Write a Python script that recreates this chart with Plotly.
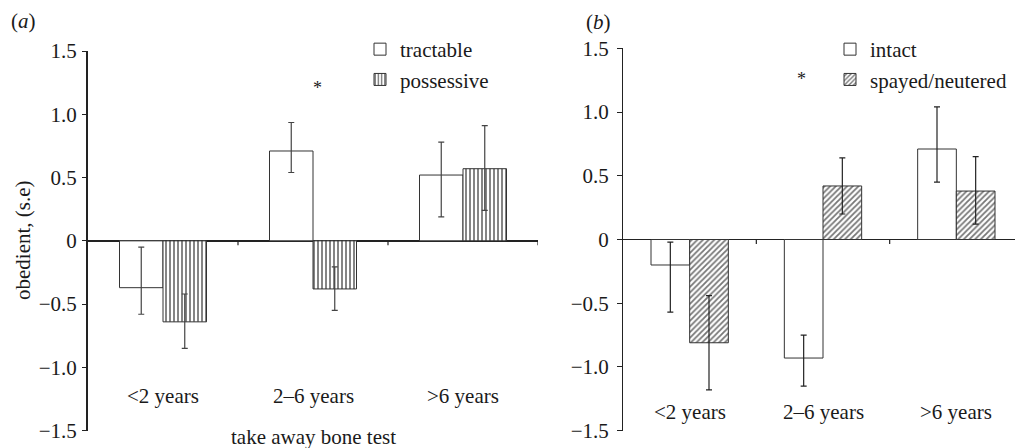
import plotly.graph_objects as go

# The page body has an 8px default margin, so the figure is drawn 8px smaller
# and every reference pixel position is shifted by that offset.
OFF = 8
W, H = 1023 - OFF, 448 - OFF

categories = ["<2 years", "2\u20136 years", ">6 years"]

# panel (a) take away bone test
tractable = [-0.37, 0.71, 0.52]
tractable_hi = [-0.05, 0.935, 0.78]
tractable_lo = [-0.58, 0.54, 0.19]
possessive = [-0.64, -0.38, 0.57]
possessive_hi = [-0.42, -0.205, 0.91]
possessive_lo = [-0.85, -0.55, 0.24]

# panel (b) neuter status
intact = [-0.20, -0.93, 0.71]
intact_hi = [-0.02, -0.75, 1.04]
intact_lo = [-0.57, -1.15, 0.45]
spayed = [-0.81, 0.42, 0.38]
spayed_hi = [-0.44, 0.64, 0.65]
spayed_lo = [-1.18, 0.20, 0.12]

ytick_vals = [1.5, 1.0, 0.5, 0, -0.5, -1.0, -1.5]
ytick_text = ["1.5", "1.0", "0.5", "0", "\u22120.5", "\u22121.0", "\u22121.5"]

FONT = "Liberation Serif"
TXT = "#1a1a1a"
EDGE = "#333333"

xs = list(range(len(categories)))


def errs(v, hi, lo):
    return [h - a for a, h in zip(v, hi)], [a - l for a, l in zip(v, lo)]


def bar(name, vals, hi, lo, xa, ya, legend, pattern=None, errcol="#444"):
    plus, minus = errs(vals, hi, lo)
    marker = dict(color="white", line=dict(color=EDGE, width=1))
    if pattern:
        marker["pattern"] = pattern
    return go.Bar(
        x=xs, y=vals, name=name, xaxis=xa, yaxis=ya, legend=legend,
        marker=marker,
        error_y=dict(type="data", symmetric=False, array=plus, arrayminus=minus,
                     color=errcol, thickness=1.2, width=3),
    )


fig = go.Figure()
fig.add_trace(bar("tractable", tractable, tractable_hi, tractable_lo, "x", "y", "legend"))
fig.add_trace(bar("possessive", possessive, possessive_hi, possessive_lo, "x", "y", "legend",
                  pattern=dict(shape="|", fgcolor="#666", bgcolor="white", size=4, solidity=0.4)))
fig.add_trace(bar("intact", intact, intact_hi, intact_lo, "x2", "y2", "legend2", errcol="#222"))
fig.add_trace(bar("spayed/neutered", spayed, spayed_hi, spayed_lo, "x2", "y2", "legend2",
                  pattern=dict(shape="/", fgcolor="#777", bgcolor="white", size=4, solidity=0.45),
                  errcol="#222"))


def px_x(p):
    return (p - OFF) / W


def px_y(p):
    return 1 - (p - OFF) / H


ya_common = dict(range=[-1.5, 1.5], tickvals=ytick_vals, ticktext=ytick_text,
                 ticks="outside", showgrid=False, zeroline=True, automargin=False,
                 tickfont=dict(family=FONT, size=21, color=TXT),
                 linecolor="#222", zerolinecolor="#222", showline=True, tickcolor="#222")

fig.update_layout(
    template="none",
    width=W, height=H,
    margin=dict(l=0, r=0, t=0, b=0, pad=0, autoexpand=False),
    paper_bgcolor="white", plot_bgcolor="white",
    barmode="group", bargap=0.42, bargroupgap=0,
    font=dict(family=FONT, size=21, color=TXT),
    xaxis=dict(domain=[px_x(88), px_x(538)], range=[-0.5, 2.5], visible=False,
               anchor="y", automargin=False),
    xaxis2=dict(domain=[px_x(623), 1.0], range=[-0.5, 2.5], visible=False,
                anchor="y2", automargin=False),
    yaxis=dict(domain=[px_y(430.7), px_y(51)], anchor="x", linewidth=2, zerolinewidth=2,
               ticklen=4, ticklabelstandoff=1, **ya_common),
    yaxis2=dict(domain=[px_y(430.7), px_y(48.3)], anchor="x2", linewidth=1, zerolinewidth=1,
                ticklen=5, ticklabelstandoff=4, **ya_common),
    legend=dict(x=px_x(360), y=px_y(29), xanchor="left", yanchor="top",
                bgcolor="rgba(0,0,0,0)", font=dict(family=FONT, size=21, color=TXT),
                traceorder="normal", borderwidth=0),
    legend2=dict(x=px_x(830), y=px_y(29), xanchor="left", yanchor="top",
                 bgcolor="rgba(0,0,0,0)", font=dict(family=FONT, size=21, color=TXT),
                 traceorder="normal", borderwidth=0),
    showlegend=True,
)

shapes = []
annotations = []
for xr, yr, lab_y, ends in (("x", "y", -1.228, True), ("x2", "y2", -1.355, False)):
    n = len(categories)
    bounds = [i + 0.5 for i in range(n - 1)] + ([n - 0.5] if ends else [])
    for b in bounds:
        shapes.append(dict(type="line", xref=xr, yref=yr, x0=b, x1=b, y0=0, y1=-0.035,
                           line=dict(color="#222", width=1.2)))
    for i, c in enumerate(categories):
        annotations.append(dict(x=i, y=lab_y, xref=xr, yref=yr, text=c, showarrow=False,
                                xanchor="center", yanchor="middle",
                                font=dict(family=FONT, size=21, color=TXT)))

# significance markers
annotations.append(dict(x=1.03, y=1.21, xref="x", yref="y", text="*", showarrow=False,
                        xanchor="center", yanchor="middle",
                        font=dict(family=FONT, size=18, color=TXT)))
annotations.append(dict(x=0.84, y=1.26, xref="x2", yref="y2", text="*", showarrow=False,
                        xanchor="center", yanchor="middle",
                        font=dict(family=FONT, size=18, color=TXT)))

# panel labels and titles
annotations.append(dict(x=px_x(23), y=px_y(21), xref="paper", yref="paper", text="(<i>a</i>)",
                        xanchor="center", yanchor="middle",
                        showarrow=False, font=dict(family=FONT, size=21, color=TXT)))
annotations.append(dict(x=px_x(598), y=px_y(22), xref="paper", yref="paper", text="(<i>b</i>)",
                        xanchor="center", yanchor="middle",
                        showarrow=False, font=dict(family=FONT, size=21, color=TXT)))
annotations.append(dict(x=px_x(313), y=px_y(437), xref="paper", yref="paper",
                        text="take away bone test", showarrow=False,
                        xanchor="center", yanchor="middle",
                        font=dict(family=FONT, size=21, color=TXT)))
annotations.append(dict(x=px_x(23), y=px_y(240), xref="paper", yref="paper",
                        text="obedient, (s.e)", textangle=-90, showarrow=False,
                        xanchor="center", yanchor="middle",
                        font=dict(family=FONT, size=21, color=TXT)))

fig.update_layout(shapes=shapes, annotations=annotations)

fig.write_html("out.html")
